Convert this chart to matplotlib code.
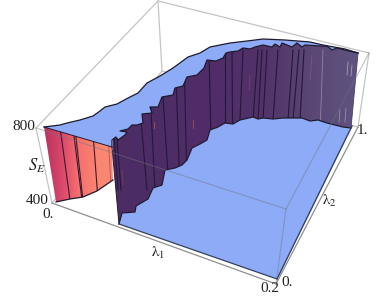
import matplotlib
matplotlib.use('Agg')
import matplotlib.pyplot as plt
import numpy as np
from matplotlib.colors import LinearSegmentedColormap
from matplotlib.patches import Polygon

plt.rcParams['font.family'] = ['Liberation Serif', 'DejaVu Serif']
plt.rcParams['mathtext.fontset'] = 'stix'

box_back = [[(158, 1), (162, 71)], [(162, 71), (52, 203)], [(162, 71), (358, 127)]]
box_outer = [[(158, 1), (36, 128)], [(158, 1), (369, 53)], [(36, 128), (52, 203)],
             [(369, 53), (358, 127)], [(52, 203), (276, 284)], [(276, 284), (358, 127)]]
box_front = [[(36, 128), (286, 209)], [(369, 53), (286, 209)], [(286, 209), (276, 284)]]

top_edge = [(44, 127), (60, 125), (67, 123), (80, 120), (93, 116), (100, 111), (105, 107),
            (117, 104), (128, 98), (138, 93), (147, 83), (160, 76), (173, 68), (188, 57),
            (200, 53), (210, 47), (230, 43), (247, 41), (263, 39), (285, 40), (310, 42),
            (323, 45), (345, 49), (358, 53)]
wall_top = [(112, 147), (112, 140), (116, 137), (118, 140), (125, 135), (127, 132), (120, 131), (128, 129),
            (132, 125), (137, 125), (143, 123), (142, 114), (152, 113), (150, 107), (158, 107),
            (162, 97), (173, 95), (175, 88), (183, 86), (187, 77), (197, 75), (200, 72), (204, 68),
            (207, 60), (216, 61), (223, 58), (226, 53), (230, 52), (238, 51), (243, 48), (250, 49), (255, 47),
            (263, 45), (272, 47), (275, 44), (280, 47), (282, 43), (292, 47), (297, 43), (302, 47),
            (305, 45), (320, 46), (327, 46), (332, 50), (337, 48), (345, 50), (358, 53)]
wall_bottom = [(119, 224), (122, 213), (135, 212), (136, 206), (148, 199), (153, 188), (162, 185),
               (165, 170), (175, 168), (182, 165), (187, 160), (192, 148), (200, 144), (207, 140),
               (210, 130), (218, 127), (225, 123), (233, 124), (240, 120), (253, 117), (258, 119), (263, 118),
               (273, 119), (283, 118), (293, 118), (302, 118), (310, 121), (318, 120), (327, 123),
               (343, 127), (351, 128)]
floor_corners = [(277, 279), (352, 126)]

pink_top = [(44, 127), (112, 147)]
pink_bottom = [(56, 202), (70, 199), (83, 197), (97, 191), (113, 180)]
pink_lines = [(59, 70), (72, 82), (74, 83), (92, 98)]
pink_thin = [(107, 112)]
wall_lines = [(108, 118), (110, 121), (135, 147), (148, 155), (160, 169), (175, 180), (184, 187),
              (209, 212), (225, 225), (232, 233), (243, 237), (258, 248), (262, 254),
              (267, 259), (278, 268), (293, 283), (299, 287), (304, 296)]
wall_light = [(323, 318)]
wall_streaks = [[(154, 122), (154, 128)], [(193, 120), (193, 128)], [(250, 75), (249, 90)],
                [(312, 55), (310, 80)], [(348, 62), (347, 75)], [(352, 65), (351, 76)],
                [(340, 110), (339, 122)], [(346, 108), (345, 122)], [(122, 170), (123, 185)]]
streak_colors = ['#c2604f', '#b85a50', '#8c3d7c', '#7a5a8c', '#b9aec6', '#b9aec6', '#a79ab5', '#a79ab5', '#8c4060']

pink_colors = ['#b8335f', '#d9466b', '#f56f6f', '#fb8470', '#f98a72']
purple_colors = ['#4c2c63', '#4e2c66', '#502d68', '#523169', '#5a4674', '#5f5480']
blue = '#8dabf6'
edge = '#1e1a2e'

fig = plt.figure(figsize=(3.88, 2.96), dpi=100)
ax = fig.add_axes([0, 0, 1, 1])
ax.set_xlim(0, 388)
ax.set_ylim(296, 0)
ax.axis('off')


def gradient(outline, colors, x0, x1):
    cmap = LinearSegmentedColormap.from_list('g', colors)
    im = ax.imshow(np.linspace(0, 1, 200).reshape(1, -1), cmap=cmap, extent=(x0, x1, 240, 30),
                   aspect='auto', zorder=3)
    patch = Polygon(outline, closed=True, transform=ax.transData, fc='none', ec='none')
    ax.add_patch(patch)
    im.set_clip_path(patch)
    return patch


def struts(pairs, patch, color, lw, alpha=1.0):
    # x at y=50 and x at y=190 of each fold, cut down to the wall shape
    for xt, xb in pairs:
        line, = ax.plot([xt, xb], [50, 190], color=color, lw=lw, alpha=alpha, zorder=4)
        line.set_clip_path(patch)


for seg in box_back:
    ax.plot(*zip(*seg), color='#c4c4c4', lw=0.9, zorder=1)
for seg in box_outer:
    ax.plot(*zip(*seg), color='#8f8f8f' if seg[0][1] > 150 else '#c4c4c4', lw=0.9, zorder=1)

# plateau
plateau = top_edge + wall_top[::-1]
ax.add_patch(Polygon(plateau, closed=True, fc=blue, ec='none', zorder=2))
ax.plot(*zip(*top_edge), color=edge, lw=0.9, zorder=6)

# pink wall
pink = pink_top + pink_bottom[::-1]
pink_patch = gradient(pink, pink_colors, 44, 113)
for xt, xb in pink_lines:
    line, = ax.plot([xt, xb], [120, 200], color='#3a1a30', lw=0.8, zorder=4)
    line.set_clip_path(pink_patch)
for xt, xb in pink_thin:
    line, = ax.plot([xt, xb], [120, 200], color='#b85a60', lw=0.7, zorder=4)
    line.set_clip_path(pink_patch)
ax.plot(*zip(*pink_top), color=edge, lw=0.7, zorder=6)
ax.plot(*zip(*pink_bottom), color=edge, lw=0.9, zorder=6)

# purple wall
wall = wall_top + wall_bottom[::-1]
wall_patch = gradient(wall, purple_colors, 113, 359)
struts(wall_lines, wall_patch, '#22183a', 0.8)
struts(wall_light, wall_patch, '#a79ab5', 0.6, 0.7)
for seg, c in zip(wall_streaks, streak_colors):
    line, = ax.plot(*zip(*seg), color=c, lw=0.6, alpha=0.8, zorder=4)
    line.set_clip_path(wall_patch)
ax.plot(*zip(*wall_top), color=edge, lw=0.9, zorder=6)
ax.plot([wall_top[0][0], wall_bottom[0][0]], [wall_top[0][1], wall_bottom[0][1]], color=edge, lw=0.7, zorder=6)
ax.plot([wall_top[-1][0], wall_bottom[-1][0]], [wall_top[-1][1], wall_bottom[-1][1]], color='#4a3a66', lw=0.6, zorder=6)

# floor
floor = wall_bottom + [floor_corners[1], floor_corners[0]]
ax.add_patch(Polygon(floor, closed=True, fc=blue, ec='none', zorder=5))
ax.plot(*zip(*wall_bottom), color=edge, lw=0.9, zorder=6)
ax.plot(*zip(*floor_corners), color='#34405f', lw=1.0, zorder=6)
ax.plot([wall_bottom[0][0], floor_corners[0][0]], [wall_bottom[0][1], floor_corners[0][1]], color='#34405f', lw=0.9, zorder=6)

for seg in box_front:
    ax.plot(*zip(*seg), color='#70757f', lw=0.8, alpha=0.45, zorder=7)

fs = 11
tc = '#222222'
ax.text(35, 127, '800', ha='right', va='center', fontsize=fs, color=tc)
ax.text(49, 201, '400', ha='right', va='center', fontsize=fs, color=tc)
ax.text(37, 166, r'$S_E$', ha='center', va='center', fontsize=12, color=tc)
ax.text(48, 214, '0.', ha='center', va='center', fontsize=fs, color=tc)
ax.text(158, 253, r'$\mathrm{\lambda}_1$', ha='center', va='center', fontsize=fs, color=tc)
ax.text(270, 289, '0.2', ha='center', va='center', fontsize=fs, color=tc)
ax.text(287, 283, '0.', ha='center', va='center', fontsize=fs, color=tc)
ax.text(329, 201, r'$\mathrm{\lambda}_2$', ha='center', va='center', fontsize=fs, color=tc)
ax.text(362, 131, '1.', ha='center', va='center', fontsize=fs, color=tc)

fig.savefig('out.png', dpi=100)
